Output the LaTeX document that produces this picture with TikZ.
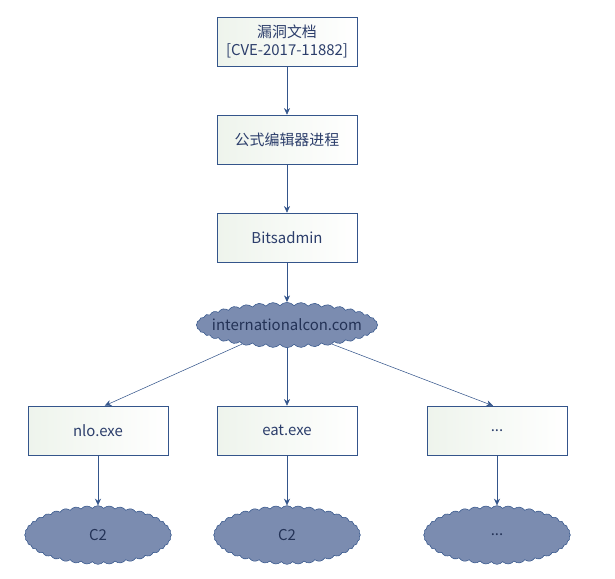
\documentclass[tikz,border=0pt]{standalone}
\usepackage{fontspec}
\newfontfamily\cjk{Noto Sans CJK SC}
\usetikzlibrary{shapes.symbols,arrows.meta}
\definecolor{linec}{HTML}{34558B}
\definecolor{textc}{HTML}{2C3E6B}
\definecolor{cloudc}{HTML}{7B8CB0}
\definecolor{boxc}{HTML}{EEF4EC}
\newcommand\etcdots{...}
\tikzset{
  box/.style={draw=linec,left color=boxc,right color=white,
    minimum width=105pt,minimum height=36.75pt,inner sep=0pt,
    align=center,text=textc,font=\cjk\fontsize{11.2}{14}\selectfont},
  puff/.style={cloud,draw=linec,fill=cloudc,cloud puffs=40,cloud puff arc=100,
    aspect=4,inner sep=0pt,text=textc!80!black,font=\cjk\fontsize{11.2}{14}\selectfont},
  link/.style={draw=linec,-{Stealth[length=5pt,width=4.5pt]}}
}
\begin{document}
\begin{tikzpicture}[x=0.75pt,y=-0.75pt]
\useasboundingbox (0,0) rectangle (615,579);
\node[box] (doc) at (287,41.5) {漏洞文档\\{[}CVE-2017-11882{]}};
\node[box] (eqn) at (287,139.5) {公式编辑器进程};
\node[box] (bits) at (287,237.5) {Bitsadmin};
\node[puff,minimum width=136pt,minimum height=34pt] (dom) at (287,325) {\makebox[0pt]{internationalcon.com}};
\draw[link] (doc) -- (eqn);
\draw[link] (eqn) -- (bits);
\draw[link] (bits) -- (dom);
\foreach \i/\x/\f/\c in {1/98/nlo.exe/C2,2/287/eat.exe/C2,3/497/\etcdots/\etcdots} {
  \node[puff,minimum width=110pt,minimum height=44pt] (c\i) at (\x,535) {\c};
  \node[box] (file\i) at (\x,430.5) {\f};
  \draw[link] (file\i) -- (c\i);
}
\draw[link] (dom.203) -- ([xshift=5pt]file1.north);
\draw[link] (dom) -- (file2);
\draw[link] (dom.337) -- ([xshift=-3pt]file3.north);
\end{tikzpicture}
\end{document}
